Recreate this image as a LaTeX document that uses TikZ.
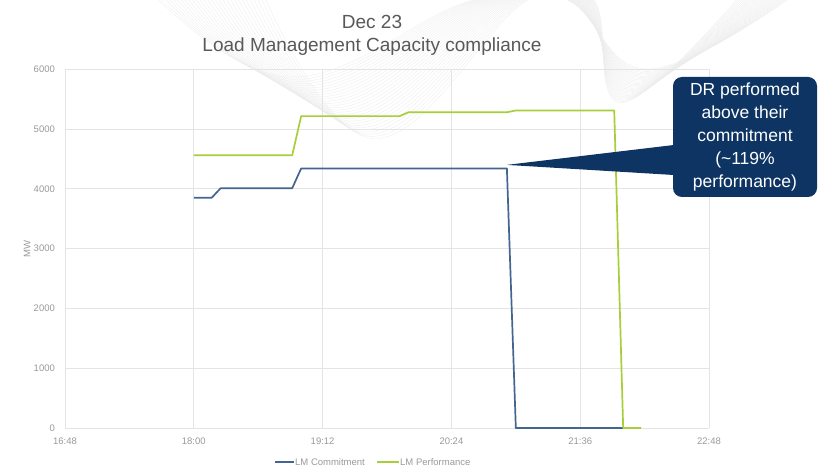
\documentclass[tikz,border=0pt]{standalone}
\usepackage{fontspec}
\setmainfont{Liberation Sans}
\usetikzlibrary{calc}

\definecolor{lmblue}{HTML}{44658F}
\definecolor{lmgreen}{HTML}{A8CF3A}
\definecolor{gridgrey}{HTML}{E4E4E4}
\definecolor{ticktext}{HTML}{9A9A9A}
\definecolor{titletext}{HTML}{595959}
\definecolor{notenavy}{HTML}{0D3462}

\tikzset{
  gridline/.style={gridgrey, line width=0.8pt},
  ticklabel/.style={ticktext, font=\fontsize{9.5}{11}\selectfont, inner sep=1pt},
  commitline/.style={lmblue, line width=1.7pt, line join=round},
  perfline/.style={lmgreen, line width=1.7pt, line join=round},
  notebox/.style={fill=notenavy, text=white, rounded corners=9pt, align=center,
    minimum width=144pt, minimum height=120pt, inner sep=0pt,
    font=\fontsize{17.5}{23}\selectfont},
  waveline/.style={black!7, line width=0.3pt},
}

\begin{document}
\begin{tikzpicture}[x=1pt,y=1pt]
\useasboundingbox (0,0) rectangle (821,469);
\fill[white] (0,0) rectangle (821,469);

% faint ribbon behind the title
\begin{scope}
  \clip (0,0) rectangle (821,469);
  \foreach \i in {0,...,28}{
    \draw[waveline] plot[smooth, tension=0.7] coordinates
      {(150+4*\i,478) (290+3*\i,392-2.2*\i) (470+2*\i,468) (565+\i,470)
       (650-\i,400-1.2*\i) (800-2*\i,478)};
  }
\end{scope}

% title
\node[titletext, align=center, font=\fontsize{19}{23}\selectfont] (title) at (372,433.5)
  {Dec 23\\Load Management Capacity compliance};

% chart: minutes after 16:48 against MW
\begin{scope}[shift={(65,41)}, x=1.789pt, y=0.0598pt]
  \foreach \t in {0,72,...,360} \draw[gridline] (\t,0) -- (\t,6000);
  \foreach \m in {0,1000,...,6000} \draw[gridline] (0,\m) -- (360,\m);

  \foreach \m in {0,1000,...,6000}
    \node[ticklabel, anchor=east] (ytick\m) at (-5,\m) {\m};
  \foreach \t/\lab in {0/16:48, 72/18:00, 144/19:12, 216/20:24, 288/21:36, 360/22:48}
    \node[ticklabel, yshift=-13pt] (xtick\t) at (\t,0) {\lab};

  \draw[commitline] plot coordinates {(72,3850) (82,3850) (87,4010) (127,4010)
    (132,4340) (247,4340) (252,0) (312,0)};
  \draw[perfline] plot coordinates {(72,4560) (127,4560) (132,5215) (187,5215)
    (192,5280) (247,5280) (252,5310) (307,5310) (312,0) (322,0)};

  \coordinate (tip) at (247,4400);
\end{scope}

\node[ticklabel, rotate=90] (mwlabel) at (27,220) {MW};

% legend
\node[ticklabel, anchor=west] (legcommit) at (294,7) {LM Commitment};
\draw[commitline, line width=2.2pt] ([xshift=-19pt]legcommit.west) -- (legcommit.west);
\node[ticklabel, anchor=west] (legperf) at (399,7) {LM Performance};
\draw[perfline, line width=2.2pt] ([xshift=-22pt]legperf.west) -- (legperf.west);

% callout
\node[notebox] (note) at (745,332)
  {DR performed\\above their\\commitment\\(\textasciitilde119\%\\performance)};
\fill[notenavy] (tip) -- ($(note.west)+(1,-8)$) -- ($(note.west)+(1,-38)$) -- cycle;
\end{tikzpicture}
\end{document}
